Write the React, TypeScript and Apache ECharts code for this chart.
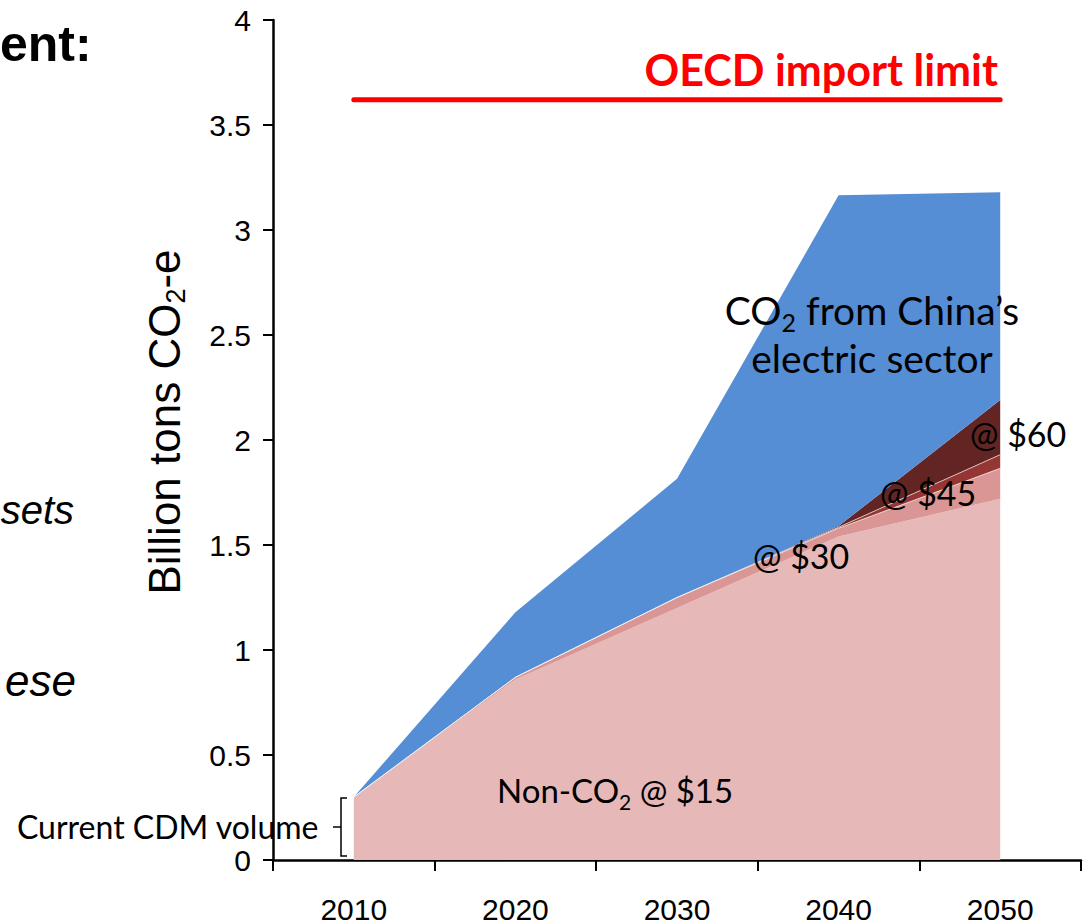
import React, { useEffect, useRef } from "react";
import * as echarts from "echarts";

const years = ["2010", "2020", "2030", "2040", "2050"];
const nonCO2At15 = [0.3, 0.86, 1.2, 1.54, 1.72];
const at30 = [0, 0.01, 0.05, 0.04, 0.145];
const at45 = [0, 0, 0, 0.005, 0.065];
const at60 = [0, 0, 0, 0.005, 0.26];
const chinaElectric = [0, 0.31, 0.565, 1.575, 0.99];
const oecdImportLimit = [3.62, 3.62, 3.62, 3.62, 3.62];

const yMin = 0;
const yMax = 4;
const yInterval = 0.5;

const ANN_FONT = "Lato, 'Open Sans', sans-serif";
const AX_FONT = "'Liberation Sans', Arial, sans-serif";

export default function App() {
  const ref = useRef<HTMLDivElement>(null);

  useEffect(() => {
    if (!ref.current) return;
    const chart = echarts.init(ref.current, undefined, { renderer: "svg" });

    const area = (name: string, data: number[], color: string, line = false) => ({
      name,
      type: "line",
      stack: "total",
      data,
      symbol: "none",
      smooth: false,
      lineStyle: line ? { width: 0.8, color: "#ffffff", opacity: 0.8 } : { width: 0 },
      areaStyle: { color, opacity: 1 },
      emphasis: { disabled: true },
      z: 2,
    });

    const annText = { fontFamily: ANN_FONT, fontSize: 34, fill: "#000" };

    chart.setOption({
      animation: false,
      backgroundColor: "#ffffff",
      grid: { left: 273, right: 8, top: 20, bottom: 62, containLabel: false },
      xAxis: {
        type: "category",
        data: years,
        boundaryGap: true,
        axisLine: { show: true, lineStyle: { color: "#000", width: 2.5 } },
        axisTick: { show: true, length: 11, alignWithLabel: false, lineStyle: { color: "#000", width: 2 } },
        axisLabel: { fontSize: 30, color: "#000", margin: 34, fontFamily: AX_FONT },
        splitLine: { show: false },
      },
      yAxis: {
        type: "value",
        min: yMin,
        max: yMax,
        interval: yInterval,
        axisLine: { show: true, lineStyle: { color: "#000", width: 2.5 } },
        axisTick: { show: true, length: 10, lineStyle: { color: "#000", width: 2 } },
        axisLabel: { fontSize: 30, color: "#000", margin: 22, fontFamily: AX_FONT },
        splitLine: { show: false },
      },
      series: [
        area("Non-CO2 @ $15", nonCO2At15, "#E6B9B8"),
        area("@ $30", at30, "#D99694", true),
        area("@ $45", at45, "#963634", true),
        area("@ $60", at60, "#632523"),
        area("CO2 from China's electric sector", chinaElectric, "#558ED5"),
        {
          name: "OECD import limit",
          type: "line",
          data: oecdImportLimit,
          symbol: "none",
          lineStyle: { color: "#FF0000", width: 5, cap: "round" },
          z: 5,
        },
      ],
      graphic: [
        {
          type: "text",
          x: 0,
          y: 44,
          z: 100,
          style: { text: "ent:", fontFamily: AX_FONT, fontWeight: "bold", fontSize: 50, fill: "#000", align: "left", verticalAlign: "middle" },
        },
        {
          type: "text",
          x: 74,
          y: 510,
          z: 100,
          style: { text: "sets", fontFamily: AX_FONT, fontStyle: "italic", fontSize: 40, fill: "#000", align: "right", verticalAlign: "middle" },
        },
        {
          type: "text",
          x: 76,
          y: 680,
          z: 100,
          style: { text: "ese", fontFamily: AX_FONT, fontStyle: "italic", fontSize: 44, fill: "#000", align: "right", verticalAlign: "middle" },
        },
        {
          type: "text",
          x: 164,
          y: 422,
          rotation: Math.PI / 2,
          z: 100,
          style: {
            text: "{a|Billion tons CO}{s|2}{a|-e}",
            align: "center",
            verticalAlign: "middle",
            rich: {
              a: { fontFamily: AX_FONT, fontSize: 44, lineHeight: 50, fill: "#000" },
              s: { fontFamily: AX_FONT, fontSize: 27, lineHeight: 30, fill: "#000", verticalAlign: "bottom" },
            },
          },
        },
        {
          type: "text",
          x: 998,
          y: 69,
          z: 100,
          style: { text: "OECD import limit", fontFamily: ANN_FONT, fontWeight: "bold", fontSize: 43, fill: "#FF0000", align: "right", verticalAlign: "middle" },
        },
        {
          type: "text",
          x: 872,
          y: 334,
          z: 100,
          style: {
            text: "{a|CO}{s|2}{a| from China\u2019s}\n{a|electric sector}",
            align: "center",
            verticalAlign: "middle",
            rich: {
              a: { fontFamily: ANN_FONT, fontSize: 39, lineHeight: 48, fill: "#000" },
              s: { fontFamily: ANN_FONT, fontSize: 25, lineHeight: 30, fill: "#000", verticalAlign: "bottom" },
            },
          },
        },
        { type: "text", x: 970, y: 433, z: 100, style: { ...annText, text: "@ $60", align: "left", verticalAlign: "middle" } },
        { type: "text", x: 880, y: 492, z: 100, style: { ...annText, text: "@ $45", align: "left", verticalAlign: "middle" } },
        { type: "text", x: 753, y: 555, z: 100, style: { ...annText, text: "@ $30", align: "left", verticalAlign: "middle" } },
        {
          type: "text",
          x: 497,
          y: 790,
          z: 100,
          style: {
            text: "{a|Non-CO}{s|2}{a| @ $15}",
            align: "left",
            verticalAlign: "middle",
            rich: {
              a: { fontFamily: ANN_FONT, fontSize: 33, lineHeight: 44, fill: "#000" },
              s: { fontFamily: ANN_FONT, fontSize: 21, lineHeight: 28, fill: "#000", verticalAlign: "bottom" },
            },
          },
        },
        { type: "text", x: 17, y: 826, z: 100, style: { ...annText, fontSize: 32, lineHeight: 34, text: "Current CDM volume", align: "left", verticalAlign: "middle" } },
        {
          type: "polyline",
          z: 100,
          shape: { points: [[347, 798], [341, 798], [341, 856], [347, 856]] },
          style: { stroke: "#000", lineWidth: 1.5, fill: null },
        },
        {
          type: "line",
          z: 100,
          shape: { x1: 333, y1: 827, x2: 341, y2: 827 },
          style: { stroke: "#000", lineWidth: 1.5 },
        },
      ],
    });

    return () => chart.dispose();
  }, []);

  return (
    <div
      ref={ref}
      style={{ position: "fixed", left: 0, top: 0, width: 1089, height: 924, background: "#fff" }}
    />
  );
}
